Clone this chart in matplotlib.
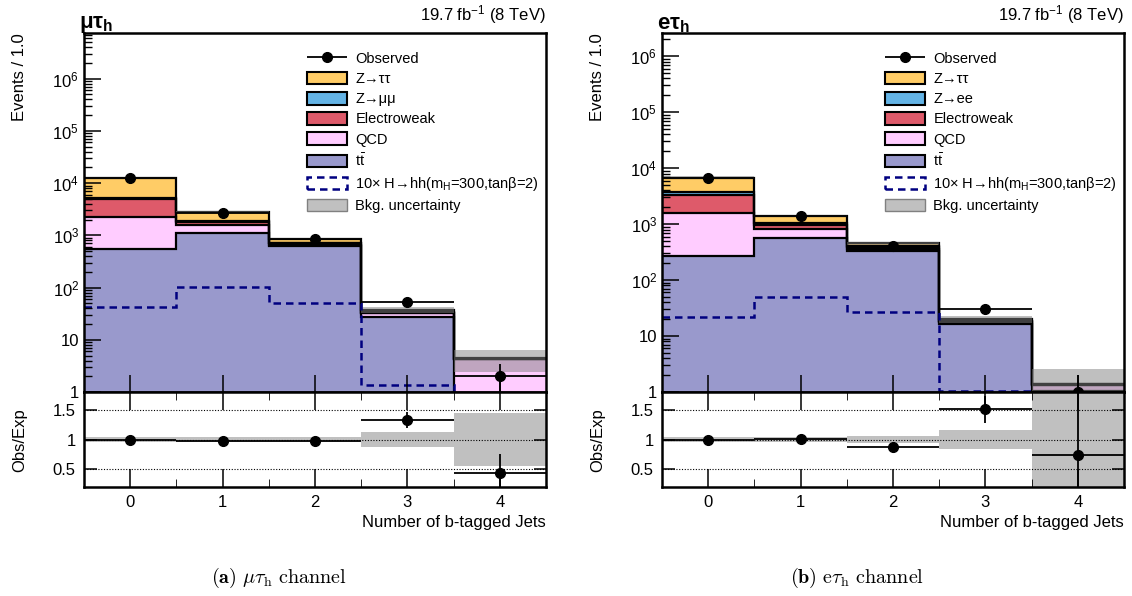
import numpy as np
import matplotlib
matplotlib.use("Agg")
import matplotlib.pyplot as plt
from matplotlib.patches import Patch
from matplotlib.legend_handler import HandlerErrorbar
from matplotlib.ticker import FixedLocator, FuncFormatter, LogLocator, NullFormatter

plt.rcParams['font.family'] = ['Liberation Sans', 'DejaVu Sans']
plt.rcParams['mathtext.fontset'] = 'custom'
plt.rcParams['mathtext.rm'] = 'Liberation Sans'
plt.rcParams['mathtext.it'] = 'Liberation Sans:italic'
plt.rcParams['mathtext.bf'] = 'Liberation Sans:bold'

# ---------------- data ----------------
bins = [0, 1, 2, 3, 4]
tick_labels = ["0", "1", "2", "3", "4"]

# mu tau_h channel
mt_ttbar = [540, 1110, 620, 27, 0.9]
mt_qcd = [1700, 450, 30, 5, 3.4]
mt_ew = [2760, 240, 50, 1, 0.05]
mt_zll = [250, 50, 20, 0.5, 0.02]
mt_ztt = [7350, 950, 150, 4, 0.08]
mt_obs = [12600, 2690, 860, 52, 2]
mt_obs_err = [112, 52, 29, 7.2, 1.4]
mt_signal = [42, 101, 50, 1.34, 0.01]
mt_unc = [0.05, 0.04, 0.04, 0.13, 0.45]
mt_ratio = [1.0, 0.97, 0.98, 1.33, 0.44]
mt_ratio_err = [0.01, 0.02, 0.03, 0.13, 0.31]

# e tau_h channel
et_ttbar = [265, 575, 325, 16.4, 1.05]
et_qcd = [1295, 235, 32, 1.6, 0.3]
et_ew = [1740, 156, 35, 0.5, 0.01]
et_zll = [500, 69, 18, 0.3, 0.005]
et_ztt = [3000, 365, 45, 1.2, 0.02]
et_obs = [6800, 1400, 400, 30, 1]
et_obs_err = [82, 37, 20, 5.5, 1.0]
et_signal = [22, 50, 27, 1.05, 0.01]
et_unc = [0.05, 0.04, 0.06, 0.16, 0.85]
et_ratio = [1.0, 1.01, 0.88, 1.51, 0.74]
et_ratio_err = [0.01, 0.03, 0.05, 0.23, 1.1]

colors = ['#9999CC', '#FFCCFF', '#DE5A6A', '#64B4E6', '#FFCC66']

W, H = 1132, 596
fig = plt.figure(figsize=(W / 100, H / 100), dpi=100)


def fx(px):
    return px / W


def fy(py):
    return 1 - py / H


def draw(x0, comps, zlabel, obs, obs_err, signal, unc, ratio, ratio_err,
         ymax, chan_label, panel_caption):
    edges = np.arange(len(bins) + 1) - 0.5
    ax = fig.add_axes([fx(x0), fy(392), fx(462), (392 - 33) / H])
    rx = fig.add_axes([fx(x0), fy(487), fx(462), (487 - 392) / H])

    cum = np.cumsum(np.array(comps, dtype=float), axis=0)
    for i in reversed(range(len(comps))):
        ax.stairs(cum[i], edges, baseline=1e-3, fill=True, color=colors[i], lw=0)
    for i in range(len(comps)):
        ax.stairs(cum[i], edges, baseline=None, color='black', lw=1.6)
    total = cum[-1]
    unc = np.array(unc)
    ax.stairs(total * (1 + unc), edges, baseline=total * (1 - unc), fill=True,
              color='#808080', alpha=0.5, lw=0)
    ax.stairs(signal, edges, baseline=None, color='#000080', ls=(0, (3, 2)), lw=1.8)
    ax.errorbar(bins, obs, xerr=0.5, yerr=obs_err, fmt='o', color='black',
                ms=7, lw=1.3, capsize=0)

    ax.set_yscale('log')
    ax.set_ylim(1, ymax)
    ax.set_xlim(-0.5, 4.5)
    ax.set_xticks(bins)
    ax.tick_params(axis='x', labelbottom=False)
    ax.yaxis.set_major_locator(LogLocator(base=10, numticks=12))
    ax.yaxis.set_minor_locator(LogLocator(base=10, subs=np.arange(2, 10), numticks=12))
    ax.yaxis.set_minor_formatter(NullFormatter())

    def fmt(v, pos):
        e = int(round(np.log10(v)))
        if e == 0:
            return '1'
        if e == 1:
            return '10'
        return r'$10^{%d}$' % e
    ax.yaxis.set_major_formatter(FuncFormatter(fmt))
    ax.tick_params(axis='both', which='major', direction='in', length=12, width=1.1,
                   labelsize=12, top=False, right=False)
    ax.tick_params(axis='y', which='minor', direction='in', length=6, width=1.0)
    ax.tick_params(axis='x', which='minor', bottom=False)
    for s in ax.spines.values():
        s.set_linewidth(1.8)

    obs_handle = ax.errorbar([], [], xerr=1, yerr=1, fmt='o', color='black', ms=7, lw=1.3)
    handles = [
        obs_handle,
        Patch(facecolor=colors[4], edgecolor='black', lw=1.5),
        Patch(facecolor=colors[3], edgecolor='black', lw=1.5),
        Patch(facecolor=colors[2], edgecolor='black', lw=1.5),
        Patch(facecolor=colors[1], edgecolor='black', lw=1.5),
        Patch(facecolor=colors[0], edgecolor='black', lw=1.5),
        Patch(facecolor='white', edgecolor='#000080', lw=1.8, ls=(0, (3, 2))),
        Patch(facecolor='#C0C0C0', edgecolor='#808080', lw=1.0),
    ]
    labels = ['Observed', 'Z→ττ', zlabel, 'Electroweak', 'QCD',
              r'$\mathregular{t\bar{t}}$',
              r'10× H→hh(m$_{\mathregular{H}}$=300,tanβ=2)', 'Bkg. uncertainty']
    ax.legend(handles, labels, loc='upper left', bbox_to_anchor=(0.483, 0.948),
              frameon=False, fontsize=10.5, handlelength=2.75, handleheight=0.95,
              labelspacing=0.40, handletextpad=0.55, borderpad=0, borderaxespad=0,
              handler_map={obs_handle: HandlerErrorbar(xerr_size=1.375, yerr_size=0.35)})

    ax.text(-0.01, 0.995, chan_label, transform=ax.transAxes, ha='left', va='bottom',
            fontsize=16, fontweight='bold')
    ax.text(1.0, 1.02, r'19.7 fb$^{-1}$ (8 TeV)', transform=ax.transAxes,
            ha='right', va='bottom', fontsize=12)

    # ratio panel
    rx.stairs(1 + unc, edges, baseline=1 - unc, fill=True, color='#C0C0C0', lw=0)
    for yv in [0.5, 1.0, 1.5]:
        rx.axhline(yv, color='black', ls=(0, (1, 1.5)), lw=0.8)
    rx.errorbar(bins, ratio, xerr=0.5, yerr=ratio_err, fmt='o', color='black',
                ms=7, lw=1.3, capsize=0)
    rx.set_xlim(-0.5, 4.5)
    rx.set_ylim(0.2, 1.8)
    rx.set_xticks(bins)
    rx.set_xticklabels(tick_labels)
    rx.xaxis.set_minor_locator(FixedLocator(list(np.array(bins[:-1]) + 0.5)))
    rx.set_yticks([0.5, 1.0, 1.5])
    rx.set_yticklabels(['0.5', '1', '1.5'])
    rx.tick_params(axis='both', which='major', direction='in', labelsize=12,
                   width=1.1, top=True, right=True, pad=6)
    rx.tick_params(axis='x', which='major', length=13)
    rx.tick_params(axis='y', which='major', length=9)
    rx.tick_params(axis='x', which='minor', direction='in', length=6, top=True)
    for s in rx.spines.values():
        s.set_linewidth(1.8)

    fig.text(fx(x0 - 64), fy(33), 'Events / 1.0', rotation=90, ha='center', va='top',
             fontsize=12)
    fig.text(fx(x0 - 64), fy(440), 'Obs/Exp', rotation=90, ha='center', va='center',
             fontsize=12)
    fig.text(fx(x0 + 462), fy(523), 'Number of b-tagged Jets', ha='right',
             va='center', fontsize=12)
    fig.text(fx(x0 + 195), fy(578), panel_caption, ha='center', va='center',
             fontsize=14.5, math_fontfamily='cm')


draw(84, [mt_ttbar, mt_qcd, mt_ew, mt_zll, mt_ztt], 'Z→μμ', mt_obs, mt_obs_err,
     mt_signal, mt_unc, mt_ratio, mt_ratio_err, 7.5e6,
     r'μτ$_{\mathbf{h}}$', r'$\mathbf{(a)}\ \mu\tau_{\mathrm{h}}\ \mathrm{channel}$')

draw(662, [et_ttbar, et_qcd, et_ew, et_zll, et_ztt], 'Z→ee', et_obs, et_obs_err,
     et_signal, et_unc, et_ratio, et_ratio_err, 2.6e6,
     r'eτ$_{\mathbf{h}}$', r'$\mathbf{(b)}\ \mathrm{e}\tau_{\mathrm{h}}\ \mathrm{channel}$')

fig.savefig('out.png', dpi=100)
